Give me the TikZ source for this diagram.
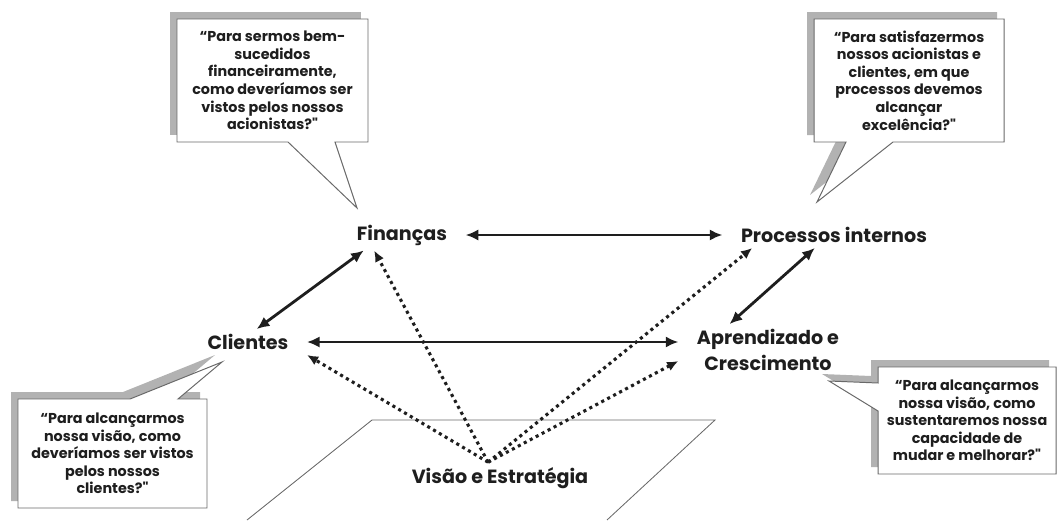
\documentclass[tikz,border=0pt]{standalone}
\usepackage{fontspec}
\setmainfont{Poppins}[Ligatures=TeXOff]
\usepackage{tikz}
\usetikzlibrary{arrows.meta,positioning}
\definecolor{shadowgray}{RGB}{178,178,178}
\definecolor{bordergray}{RGB}{105,105,105}
\definecolor{inkgray}{RGB}{30,30,30}
\tikzset{
    perspective/.style={
                font=\bfseries\fontsize{13.6}{18.5}\selectfont,
                text=inkgray,
                align=center,
                inner xsep=13pt,
                inner ysep=3.5pt
            },
        question/.style={
                font=\bfseries\fontsize{10.2}{12.5}\selectfont,
                text=inkgray,
                align=center,
                inner sep=0pt
            },
}

\begin{document}
\begin{tikzpicture}[
    x=0.025cm, y=-0.025cm,
    balloon/.style={
        draw=bordergray,
        line width=0.7pt,
        fill=white},
    balloonshadow/.style={
        fill=shadowgray,
        shift={(-7,-7)}},
    link/.style={
        {Latex[length=9pt,width=8pt]}-{Latex[length=9pt,width=8pt]},
        line width=2pt,
        draw=inkgray},
    vision/.style={
        -{Latex[length=8pt,width=7pt]},
        line width=2.2pt,
        dash pattern=on 2.2pt off 2.6pt,
        draw=inkgray},
    ground/.style={draw=bordergray, line width=0.6pt},
  ]
  \useasboundingbox (0,0) rectangle (1059,520);
  % Ground plane
  \draw[ground] (247,520) -- (372,420) -- (715,420) -- (607,520);
  % Perspectives
  \node[perspective] (fin) at (402,235) {Finanças};
  \node[perspective] (proc) at (834,235) {Processos internos};
  \node[perspective] (cli) at (248,342) {Clientes};
  \node[perspective] (apr) at (768,350) {Aprendizado e\\Crescimento};
  \node[perspective] (vis) at (500,478) {Visão e Estratégia};
  % Links between perspectives
  \draw[link] (fin.east) -- (proc.west);
  \draw[link] (cli.east) -- (cli.east -| apr.west);
  \draw[link] (cli.56) -- (fin.202);
  \draw[link] (proc.214) -- (apr.146);
  % Vision and strategy
  \draw[vision] (vis.127) -- (fin.209);
  \draw[vision] (vis.127) -- (proc.189);
  \draw[vision] (vis.127) -- (cli.south east);
  \draw[vision] (vis.127) -- (apr.187);
  % Balloons
  \fill[shadowgray] (170,12) rectangle (361,135);
  \draw[balloon] (177,19) -- (368,19) -- (368,142) -- (335,142) -- (357,208) -- (288,142) -- (177,142) -- cycle;
  \node[question] (qfin) at (272.5,80.5) {“Para sermos bem-\\sucedidos\\financeiramente,\\como deveríamos ser\\vistos pelos nossos\\acionistas?"};
  \fill[balloonshadow] (814,19) -- (1004,19) -- (1004,142) -- (893,142) -- (817,202) -- (846,142) -- (814,142) -- cycle;
  \draw[balloon] (814,19) -- (1004,19) -- (1004,142) -- (893,142) -- (817,202) -- (846,142) -- (814,142) -- cycle;
  \node[question] (qproc) at (909,80.5) {“Para satisfazermos\\nossos acionistas e\\clientes, em que\\processos devemos\\alcançar\\excelência?"};
  \fill[balloonshadow] (18,399) -- (130,399) -- (222,362) -- (178,399) -- (207,399) -- (207,508) -- (18,508) -- cycle;
  \draw[balloon] (18,399) -- (130,399) -- (222,362) -- (178,399) -- (207,399) -- (207,508) -- (18,508) -- cycle;
  \node[question] (qcli) at (112.5,453.5) {“Para alcançarmos\\nossa visão, como\\deveríamos ser vistos\\pelos nossos\\clientes?"};
  \fill[balloonshadow] (878,367) -- (1056,367) -- (1056,474) -- (878,474) -- (878,411) -- (829,381) -- (878,383) -- cycle;
  \draw[balloon] (878,367) -- (1056,367) -- (1056,474) -- (878,474) -- (878,411) -- (829,381) -- (878,383) -- cycle;
  \node[question] (qapr) at (967,420.5) {“Para alcançarmos\\nossa visão, como\\sustentaremos nossa\\capacidade de\\mudar e melhorar?"};
\end{tikzpicture}
\end{document}
